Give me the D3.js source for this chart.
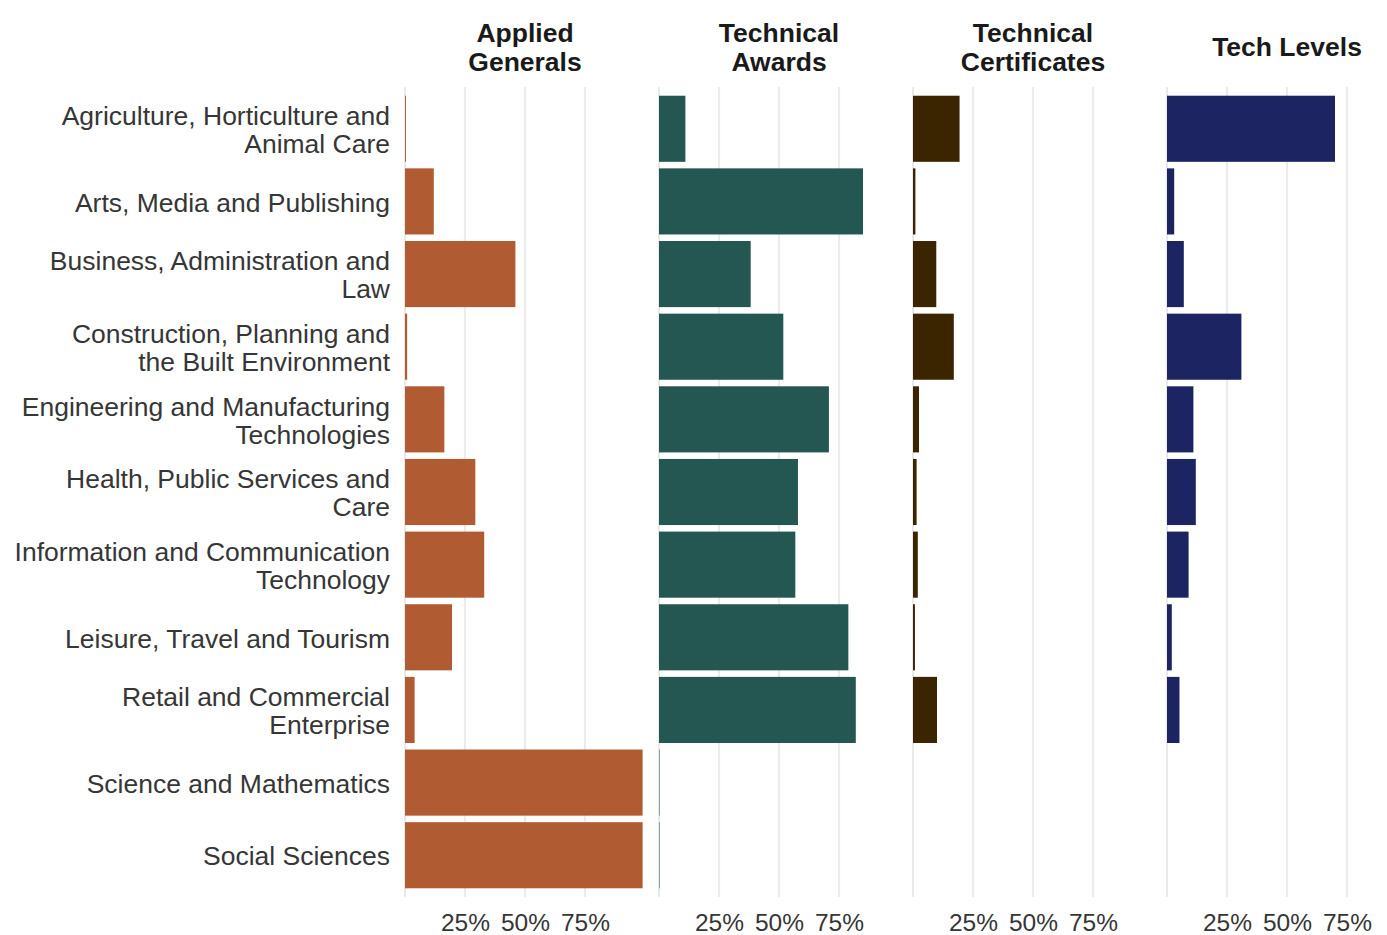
<!DOCTYPE html>
<html>
<head>
<meta charset="utf-8">
<script src="https://cdn.jsdelivr.net/npm/d3@7"></script>
<style>
  html, body { margin: 0; padding: 0; background: #ffffff; }
  svg { display: block; font-family: "Liberation Sans", Arial, sans-serif; }
</style>
</head>
<body>
<svg id="chart" width="1387" height="935"></svg>
<script>
// ---- data ----
const categories = [
  ["Agriculture, Horticulture and", "Animal Care"],
  ["Arts, Media and Publishing"],
  ["Business, Administration and", "Law"],
  ["Construction, Planning and", "the Built Environment"],
  ["Engineering and Manufacturing", "Technologies"],
  ["Health, Public Services and", "Care"],
  ["Information and Communication", "Technology"],
  ["Leisure, Travel and Tourism"],
  ["Retail and Commercial", "Enterprise"],
  ["Science and Mathematics"],
  ["Social Sciences"]
];
const qualTypes = [["Applied", "Generals"], ["Technical", "Awards"], ["Technical", "Certificates"], ["Tech Levels"]];
const appliedGenerals      = [0.004, 0.12, 0.46, 0.009, 0.164, 0.293, 0.33, 0.196, 0.04, 0.99, 0.99];
const technicalAwards      = [0.11, 0.85, 0.382, 0.518, 0.708, 0.579, 0.568, 0.789, 0.82, 0.002, 0.002];
const technicalCertificates= [0.194, 0.01, 0.097, 0.17, 0.025, 0.015, 0.02, 0.008, 0.10, 0.0, 0.0];
const techLevels           = [0.70, 0.03, 0.07, 0.31, 0.11, 0.12, 0.09, 0.02, 0.052, 0.0, 0.0];
const seriesValues = [appliedGenerals, technicalAwards, technicalCertificates, techLevels];
const seriesColors = ["#b05b32", "#255752", "#3b2500", "#1c2561"];
const tickValues = [0.25, 0.5, 0.75];
const tickLabels = ["25%", "50%", "75%"];

// ---- layout ----
const svg = d3.select("#chart");
const panelStarts = [405, 659, 913, 1167];
const panelWidth = 240;
const plotTop = 87, plotBottom = 897;
const labelStretch = 1.06;

const y = d3.scaleBand()
  .domain(d3.range(categories.length))
  .range([plotTop, plotBottom])
  .paddingInner(0.09)
  .paddingOuter(0.12);

// category labels
const labG = svg.append("g");
categories.forEach((lines, i) => {
  const cy = y(i) + y.bandwidth() / 2;
  const g = labG.append("g")
    .attr("transform", `translate(390, ${cy + 1.5}) scale(${labelStretch}, 1)`);
  const t = g.append("text")
    .attr("text-anchor", "end")
    .attr("font-size", 25)
    .attr("fill", "#363636");
  const n = lines.length;
  lines.forEach((ln, j) => {
    t.append("tspan")
      .attr("x", 0)
      .attr("y", (j - (n - 1) / 2) * 28)
      .attr("dy", "0.35em")
      .text(ln);
  });
});

qualTypes.forEach((title, k) => {
  const x0 = panelStarts[k];
  const x = d3.scaleLinear().domain([0, 1]).range([x0, x0 + panelWidth]);
  const g = svg.append("g");

  // grid lines
  g.selectAll("line.grid")
    .data([0].concat(tickValues))
    .enter().append("line")
    .attr("x1", d => x(d)).attr("x2", d => x(d))
    .attr("y1", plotTop).attr("y2", plotBottom)
    .attr("stroke", d => d === 0 ? "#d4d4d4" : "#ebebeb")
    .attr("stroke-width", d => d === 0 ? 1 : 2.2);

  // bars
  g.selectAll("rect.bar")
    .data(seriesValues[k])
    .enter().append("rect")
    .attr("x", x(0))
    .attr("y", (d, i) => y(i))
    .attr("width", d => Math.max(0, x(d) - x(0)))
    .attr("height", y.bandwidth())
    .attr("fill", seriesColors[k]);

  // x axis tick labels
  const axis = d3.axisBottom(x)
    .tickValues(tickValues)
    .tickFormat((d, i) => tickLabels[i])
    .tickSize(0)
    .tickPadding(0);
  const ax = g.append("g")
    .attr("transform", `translate(0, 931)`)
    .call(axis);
  ax.select(".domain").remove();
  ax.selectAll("text")
    .attr("font-size", 24.5)
    .attr("fill", "#363636")
    .attr("font-family", "'Liberation Sans', Arial, sans-serif")
    .attr("dy", 0)
    .attr("y", 0);

  // panel title
  const cx = x(0.5);
  const tt = g.append("text")
    .attr("text-anchor", "middle")
    .attr("font-size", 26.5)
    .attr("font-weight", "bold")
    .attr("fill", "#1a1a1a");
  const n = title.length;
  title.forEach((ln, j) => {
    tt.append("tspan")
      .attr("x", cx)
      .attr("y", 47 + (j - (n - 1) / 2) * 29)
      .attr("dy", "0.35em")
      .text(ln);
  });
});
</script>
</body>
</html>
